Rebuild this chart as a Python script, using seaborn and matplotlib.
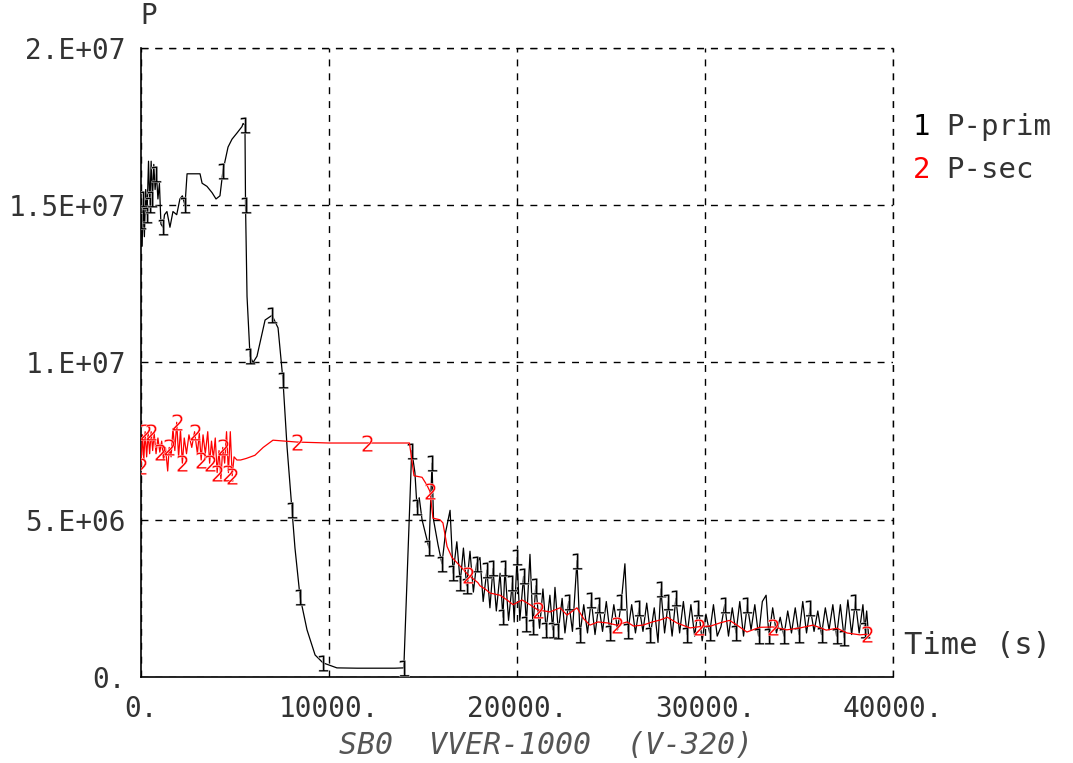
import matplotlib
matplotlib.use("Agg")
import matplotlib.pyplot as plt
import seaborn as sns
import numpy as np
import pandas as pd

# ---------------- data ----------------
series_names = ["P-prim", "P-sec"]
series_ids = ["1", "2"]

t_prim = [0, 60, 120, 180, 250, 320, 400, 470, 540, 610, 680, 750, 820, 900, 980, 1060,
          1170, 1250, 1380, 1540, 1700, 1900, 2070, 2200, 2340, 2450, 3140, 3250, 3510,
          3780, 3990, 4200, 4360, 4630, 4840, 5110, 5370, 5430, 5530, 5560, 5640, 5800,
          5960, 6170, 6600, 6970, 7290, 7450, 7550, 7770, 8030, 8190, 8460, 8830, 9260,
          9680, 10420, 11500, 12500, 13500, 13980, 14400,
          14570, 14680, 14800, 14950, 15320, 15480, 15560, 15800, 16010, 16200, 16440,
          16600, 16800, 16980, 17150, 17320, 17500, 17680, 17850, 18030, 18200, 18400,
          18560, 18720, 18900, 19100, 19250, 19360, 19550, 19750, 19850, 20000, 20150,
          20350, 20500, 20690, 20850, 21000, 21200, 21380, 21550, 21750, 21900, 22020,
          22200, 22400, 22550, 22750, 22950, 23190, 23350, 23550, 23750, 23950, 24150,
          24350, 24550, 24750, 24950, 25150, 25350, 25550, 25740, 25900, 26100, 26300,
          26500, 26700, 26900, 27100, 27300, 27500, 27650, 27850, 28050, 28250, 28450,
          28650, 28850, 29050, 29250, 29450, 29650, 29850, 30050, 30250, 30450, 30650,
          30850, 31050, 31250, 31450, 31650, 31850, 32050, 32250, 32450, 32650, 32850,
          33050, 33250, 33400, 33600, 33800, 34000, 34200, 34400, 34600, 34800, 35000,
          35200, 35400, 35600, 35800, 36000, 36200, 36400, 36600, 36800, 37000, 37200,
          37400, 37600, 37800, 38000, 38200, 38400, 38500, 38600, 38700]
p_prim = [14.5, 13.7, 15.2, 14.0, 15.5, 14.7, 16.4, 15.0, 16.4, 15.2, 16.3, 15.5, 16.0,
          15.2, 15.7, 14.4, 14.3, 14.7, 14.8, 14.3, 14.8, 14.7, 15.2, 15.3, 15.0, 16.0,
          16.0, 15.7, 15.6, 15.4, 15.2, 15.3, 16.1, 16.85, 17.1, 17.3, 17.5, 17.6, 17.55,
          15.0, 12.1, 10.2, 10.0, 10.2, 11.35, 11.5, 11.1, 10.1, 9.45, 7.3, 5.3, 4.1,
          2.55, 1.5, 0.7, 0.45, 0.29, 0.28, 0.28, 0.28, 0.29, 7.2,
          6.5, 5.4, 5.7, 5.0, 4.1, 6.8, 5.0, 4.2, 3.6, 4.6, 5.3,
          3.3, 4.3, 3.0, 4.1, 2.9, 4.0, 2.7, 3.6, 3.8, 2.4, 3.4,
          2.2, 3.45, 2.1, 3.3, 1.9, 3.45, 1.8, 3.0, 1.75, 3.8, 1.8,
          3.2, 1.7, 3.9, 1.6, 2.9, 1.55, 2.8, 1.5, 2.6, 1.5, 2.85,
          1.45, 2.5, 1.4, 2.4, 1.45, 3.7, 1.35, 2.3, 1.4, 2.45, 1.35,
          2.3, 1.45, 2.4, 1.4, 2.3, 1.5, 2.4, 3.6, 1.45, 2.3, 1.4,
          2.2, 1.45, 2.35, 1.35, 2.2, 1.1, 2.8, 1.4, 2.4, 1.3, 2.5,
          1.4, 2.4, 1.35, 2.3, 1.3, 2.2, 1.15, 2.0, 1.4, 2.3, 1.3,
          1.6, 2.3, 1.3, 2.2, 1.4, 2.4, 1.3, 2.3, 1.5, 2.3, 1.3,
          2.4, 2.6, 1.3, 2.2, 1.4, 1.9, 1.3, 2.1, 1.4, 2.2, 1.35,
          2.4, 1.4, 2.2, 1.45, 2.1, 1.35, 2.2, 1.5, 2.3, 1.3, 2.3,
          1.25, 2.45, 1.35, 2.4, 1.4, 2.3, 1.5, 2.1, 1.3]

t_sec = [0, 80, 150, 220, 300, 380, 460, 540, 620, 700, 800, 900, 1000, 1100, 1200, 1300,
         1420, 1500, 1600, 1700, 1800, 1900, 2000, 2100, 2200, 2300, 2420, 2550, 2700,
         2850, 3000, 3100, 3200, 3300, 3420, 3550, 3650, 3750, 3850, 3950, 4050, 4150,
         4250, 4350, 4450, 4550, 4650, 4750, 4850, 4950, 5100, 5300, 5600, 6060, 6500,
         7020, 8300, 10000, 12000, 14280, 14520, 14950, 15210, 15370, 15530, 15900, 16060,
         16280, 16540, 16860, 17400, 17920, 18030, 18300, 18560, 19100, 19470, 19790,
         20270, 20690, 21120, 21760, 22290, 22660, 23190, 23550, 23880, 24300, 24800,
         25300, 25850, 26200, 26700, 27200, 27600, 28000, 28500, 29200, 29700, 30300,
         30800, 31300, 31700, 32230, 32900, 33620, 34350, 35050, 35750, 36450, 37020,
         37550, 38240, 38620]
p_sec = [6.7, 7.7, 6.9, 7.8, 7.0, 7.75, 7.1, 7.8, 7.2, 7.75, 7.1, 7.6, 7.15, 7.5, 6.9, 7.3,
         6.55, 7.3, 7.0, 7.9, 7.2, 8.1, 7.0, 7.85, 6.8, 7.6, 7.1, 7.7, 7.3,
         7.8, 7.1, 7.75, 6.9, 7.7, 7.1, 7.8, 6.8, 7.5, 6.95, 7.6, 6.5, 7.2,
         6.3, 7.3, 6.8, 7.8, 6.5, 7.8, 6.4, 7.0, 6.9, 6.9, 6.95, 7.05, 7.3,
         7.53, 7.47, 7.44, 7.44, 7.44, 6.4, 6.35, 6.1, 5.9, 5.05, 5.0, 4.9,
         4.15, 3.8, 3.6, 3.25, 3.0, 2.9, 2.8, 2.67, 2.6, 2.45, 2.3,
         2.45, 2.3, 2.13, 2.07, 2.2, 1.97, 2.2, 1.85, 1.65, 1.75, 1.72,
         1.65, 1.75, 1.62, 1.65, 1.75, 1.81, 1.9, 1.72, 1.56, 1.6, 1.62,
         1.72, 1.8, 1.65, 1.43, 1.58, 1.59, 1.5, 1.56, 1.65, 1.49, 1.55,
         1.40, 1.34, 1.36]

x_ticks = [0, 10000, 20000, 30000, 40000]
x_labels = ["0.", "10000.", "20000.", "30000.", "40000."]
y_ticks = [0, 5e6, 1e7, 1.5e7, 2e7]
y_labels = ["0.", "5.E+06", "1.E+07", "1.5E+07", "2.E+07"]
title_text = "SB0  VVER-1000  (V-320)"

# ---------------- build frame ----------------
df_prim = pd.DataFrame({"t": t_prim, "p": np.array(p_prim) * 1e6})
df_sec = pd.DataFrame({"t": t_sec, "p": np.array(p_sec) * 1e6})

sns.set_style("white")
plt.rcParams["font.family"] = ["DejaVu Sans Mono", "DejaVu Sans"]

W, H = 1073, 763
fig = plt.figure(figsize=(W / 100, H / 100), dpi=100)
ax = fig.add_axes([141 / W, 1 - 677 / H, (893 - 141) / W, (677 - 48) / H])

sns.lineplot(data=df_prim, x="t", y="p", ax=ax, color="black", lw=0.9,
             estimator=None, sort=False, marker="$1$", markersize=12,
             markeredgewidth=0.3, markevery=0.09, zorder=3)
sns.lineplot(data=df_sec, x="t", y="p", ax=ax, color="red", lw=0.9,
             estimator=None, sort=False, marker="$2$", markersize=12,
             markeredgewidth=0.3, markevery=0.09, zorder=4)

ax.set_xlim(0, 40000)
ax.set_ylim(0, 2e7)
ax.set_xticks(x_ticks)
ax.set_xticklabels(x_labels)
ax.set_yticks(y_ticks)
ax.set_yticklabels(y_labels)
ax.set_xticks(np.arange(0, 40001, 2500), minor=True)
ax.set_yticks(np.arange(0, 2e7 + 1, 1e6), minor=True)
ax.tick_params(which="both", direction="in", color="black", width=1)
ax.tick_params(axis="x", which="both", length=13, pad=13)
ax.tick_params(axis="y", which="both", length=17, pad=11)
ax.tick_params(which="major", labelsize=20, labelcolor="#333333")
ax.set_xlabel("")
ax.set_ylabel("")

ax.grid(True, which="major", linestyle=(0, (5, 5)), color="black", lw=1)
for s in ["top", "right"]:
    ax.spines[s].set_visible(False)
for s in ["left", "bottom"]:
    ax.spines[s].set_color("black")
    ax.spines[s].set_linewidth(1.2)
# dashed top/right borders
ax.axhline(2e7, color="black", lw=1, linestyle=(0, (5, 5)), clip_on=False)
ax.axvline(40000, color="black", lw=1, linestyle=(0, (5, 5)), clip_on=False)

# texts
fig.text(149 / W, 1 - 16 / H, "P", ha="center", va="center", fontsize=20, color="#333333")
fig.text(904 / W, 1 - 645 / H, "Time (s)", ha="left", va="center", fontsize=22, color="#333333")
fig.text(546 / W, 1 - 745 / H, title_text, ha="center", va="center", fontsize=21.5,
         color="#555555", style="italic")

leg_colors = ["black", "red"]
for i, (sid, name) in enumerate(zip(series_ids, series_names)):
    y = 1 - (127 + 43 * i) / H
    fig.text(913 / W, y, sid, ha="left", va="center", fontsize=21, color=leg_colors[i])
    fig.text(946 / W, y, name, ha="left", va="center", fontsize=21, color="#333333")

fig.savefig("out.png", dpi=100)
